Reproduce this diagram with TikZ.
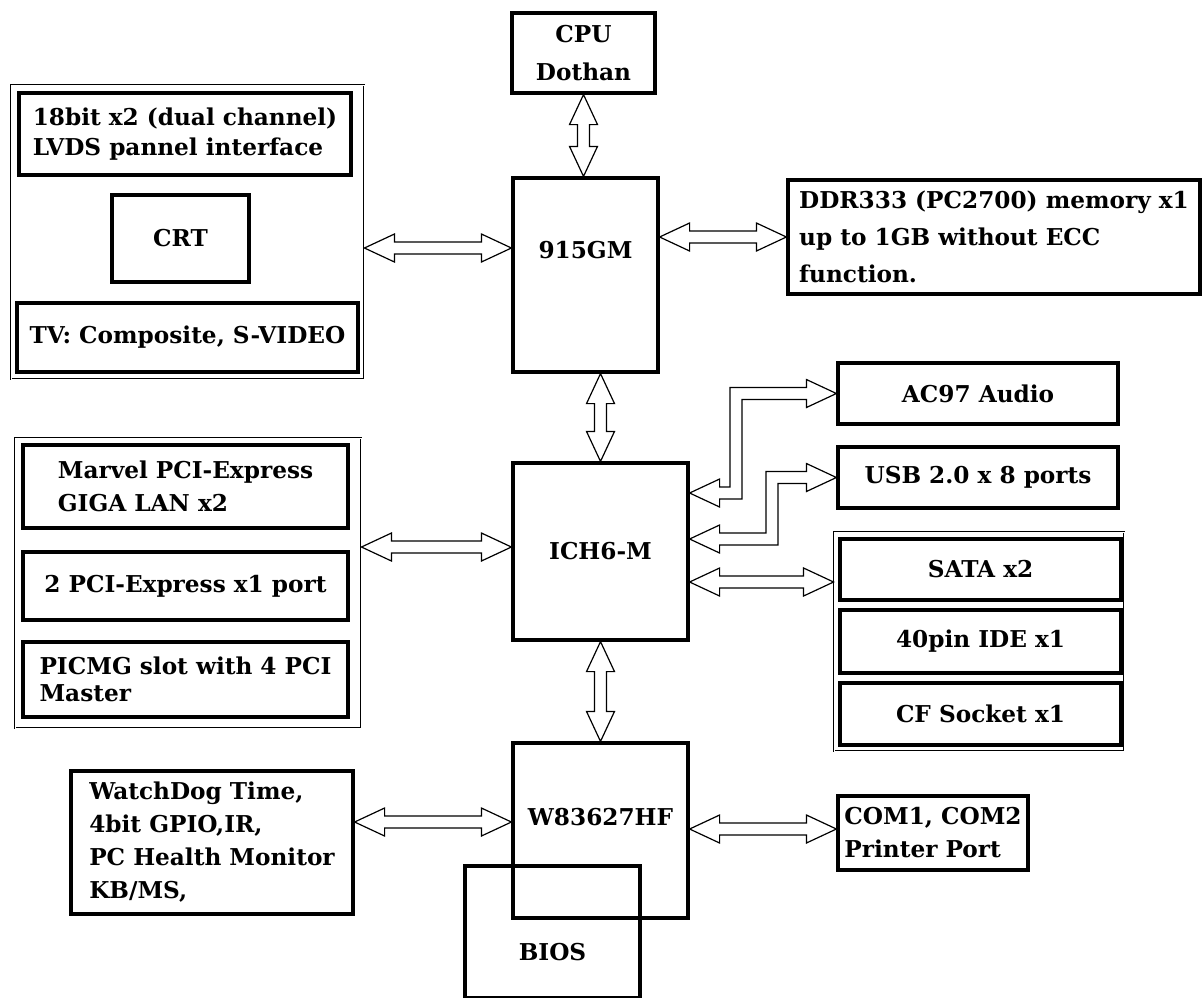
\documentclass[tikz,border=0pt]{standalone}
\usepackage{fontspec}
\setmainfont{DejaVu Serif}
\usepackage{tikz}
\usetikzlibrary{calc}

\begin{document}
\begin{tikzpicture}[
    x=0.5pt, y=-0.5pt,
    blk/.style={rectangle, draw, line width=1.6pt, inner sep=3pt, align=center,
                font=\fontsize{11.6}{16.5}\selectfont\bfseries},
    lft/.style={blk, align=left},
    grp/.style={rectangle, draw, double, double distance=0.5pt, line width=0.45pt},
    sz/.style 2 args={minimum width=#1*0.5pt, minimum height=#2*0.5pt},
    txtup/.style={text height=8pt, text depth=#1},
    txtdown/.style={text height=#1, text depth=2pt},
    harr/.style={line width=0.6pt, to path={
        let \p1=(\tikztostart), \p2=(\tikztotarget),
            \n1={atan2(\y2-\y1,\x2-\x1)}, \n2={veclen(\x2-\x1,\y2-\y1)} in
        {[shift={(\p1)}, rotate=\n1]
         (0pt,0pt) -- (15pt,7pt) -- (15pt,3pt) -- ({\n2*1pt-15pt},3pt)
         -- ({\n2*1pt-15pt},7pt) -- ({\n2*1pt},0pt) -- ({\n2*1pt-15pt},-7pt)
         -- ({\n2*1pt-15pt},-3pt) -- (15pt,-3pt) -- (15pt,-7pt) -- cycle}}},
    barr/.style={line width=0.6pt, to path={
        let \p1=(\tikztostart), \p2=(\tikztotarget), \p3=(#1) in
        (\p1) -- (\x1+15pt,\y1+7pt) -- (\x1+15pt,\y1+3pt) -- (\x3-3pt,\y1+3pt)
        -- (\x3-3pt,\y2+3pt) -- (\x2-15pt,\y2+3pt) -- (\x2-15pt,\y2+7pt) -- (\p2)
        -- (\x2-15pt,\y2-7pt) -- (\x2-15pt,\y2-3pt) -- (\x3+3pt,\y2-3pt)
        -- (\x3+3pt,\y1-3pt) -- (\x1+15pt,\y1-3pt) -- (\x1+15pt,\y1-7pt) -- cycle}}
]

\fill[white] (0,0) rectangle (1202,997);
\useasboundingbox (0,0) rectangle (1202,997);

\node[blk, sz={143}{80}, font=\fontsize{11.6}{19}\selectfont\bfseries] (cpu) at (583.5,53) {CPU\\Dothan};
\node[blk, sz={145}{194}, txtup=24.8pt] (gm)   at (585.5,275)   {915GM};
\node[lft, sz={412}{114}, font=\fontsize{11.6}{18.5}\selectfont\bfseries] (ddr) at (994,237)
    {DDR333 (PC2700) memory x1\\up to 1GB without ECC\\function.};

\node[grp, sz={353}{294}] (lcd)  at (187.5,232) {};
\node[lft, sz={332}{82}, font=\fontsize{11.6}{15}\selectfont\bfseries] (lvds) at (185,134)
    {18bit x2 (dual channel)\\LVDS pannel interface};
\node[blk, sz={137}{87}]  (crt)  at (180.5,238.5) {CRT};
\node[blk, sz={341}{69}]  (tv)   at (187.5,337.5) {TV: Composite, S-VIDEO};

\node[grp, sz={346}{290}] (pci)  at (188,583) {};
\node[lft, sz={325}{83}]  (lan)  at (185.5,486.5) {Marvel PCI-Express\\GIGA LAN x2};
\node[blk, sz={325}{68}]  (pcie) at (185.5,586)   {2 PCI-Express x1 port};
\node[lft, sz={325}{75}, font=\fontsize{11.6}{13.5}\selectfont\bfseries] (picmg) at (185.5,679.5)
    {PICMG slot with 4 PCI\\Master};

\node[blk, sz={175}{177}] (ich)  at (600.5,551.5) {ICH6-M};
\node[blk, sz={280}{61}]  (ac)   at (978,393.5)   {AC97 Audio};
\node[blk, sz={280}{61}]  (usb)  at (978,477.5)   {USB 2.0 x 8 ports};

\node[grp, sz={290}{219}] (stor) at (979,641.5) {};
\node[blk, sz={281}{61}]  (sata) at (980.5,569.5) {SATA x2};
\node[blk, sz={281}{63}]  (ide)  at (980.5,641.5) {40pin IDE x1};
\node[blk, sz={281}{62}]  (cf)   at (980.5,714)   {CF Socket x1};

\node[blk, sz={175}{175}, txtup=13.3pt] (sio)  at (600.5,830.5) {W83627HF};
\node[blk, sz={175}{132}, txtdown=30.2pt] (bios) at (552.5,932)   {BIOS};
\node[lft, sz={282}{143}] (wd)   at (212,842.5)
    {WatchDog Time,\\4bit GPIO,IR,\\PC Health Monitor\\KB/MS,};
\node[lft, sz={190}{74}]  (com)  at (933,833)   {COM1, COM2\\Printer Port};

\coordinate (acbend)  at (736,0);
\coordinate (usbbend) at (772,0);

\draw[harr] (cpu.south) to (cpu.south |- gm.north);
\draw[harr] (lcd.east |- 0,248) to (gm.west |- 0,248);
\draw[harr] (gm.east |- ddr.west) to (ddr.west);
\draw[harr] (gm.south -| ich.north) to (ich.north);
\draw[harr] (pci.east |- 0,547) to (ich.west |- 0,547);
\draw[harr] (ich.east |- 0,582) to (stor.west |- 0,582);
\draw[harr] (ich.south) to (sio.north);
\draw[harr] (wd.east |- 0,822) to (sio.west |- 0,822);
\draw[harr] (sio.east |- 0,829) to (com.west |- 0,829);
\draw[barr=acbend]  (ich.east |- 0,493) to (ac.west);
\draw[barr=usbbend] (ich.east |- 0,539) to (usb.west);

\end{tikzpicture}
\end{document}
